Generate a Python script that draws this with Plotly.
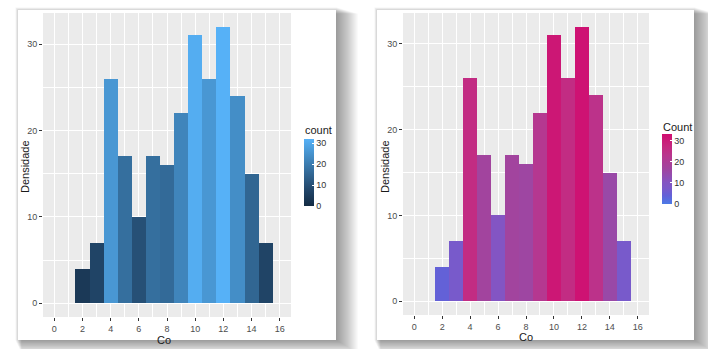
import plotly.graph_objects as go

W, H = 708, 349

# ---- data ----
co_bins = [2, 3, 4, 5, 6, 7, 8, 9, 10, 11, 12, 13, 14, 15]
counts = [4, 7, 26, 17, 10, 17, 16, 22, 31, 26, 32, 24, 15, 7]
x_ticks = [0, 2, 4, 6, 8, 10, 12, 14, 16]
y_ticks = [0, 10, 20, 30]
legend_ticks = [0, 10, 20, 30]

blue_scale = [[0.0, "#132B43"], [0.25, "#22476B"], [0.5, "#336A98"],
              [0.75, "#448EC7"], [1.0, "#56B1F7"]]
pink_scale = [[0.0, "#4C7AE6"], [0.125, "#6460D7"], [0.22, "#7A5ACA"],
              [0.31, "#8455C2"], [0.5, "#A0459F"], [0.69, "#B8368E"],
              [0.81, "#C42A80"], [1.0, "#D00E70"]]


def px(x):
    return x / W


def py(y):
    return 1 - y / H


fig = go.Figure()

# panels (pixel boxes)
panels = [
    dict(card=(18, 10, 336, 340), plot=(43, 13, 291, 317), xa="x", ya="y",
         ca="coloraxis"),
    dict(card=(377, 10, 694, 340), plot=(403, 13, 649, 315), xa="x2", ya="y2",
         ca="coloraxis2"),
]

for p in panels:
    fig.add_trace(go.Bar(
        x=co_bins, y=counts, width=1,
        marker=dict(color=counts, coloraxis=p["ca"], line=dict(width=0)),
        xaxis=p["xa"], yaxis=p["ya"], showlegend=False,
        hovertemplate="Co=%{x}<br>count=%{y}<extra></extra>",
    ))

shapes = []
# shadows
for p in panels:
    x0, y0, x1, y1 = p["card"]
    for k in range(1, 23):
        shapes.append(dict(
            type="rect", xref="paper", yref="paper", layer="below",
            x0=px(x0 - 3 + k * 0.3), x1=px(x1 + k),
            y0=py(y1 + k * 0.6), y1=py(y0 - 3 + k * 0.3),
            line=dict(width=0), fillcolor="rgba(0,0,0,0.02)"))
# cards
for p in panels:
    x0, y0, x1, y1 = p["card"]
    shapes.append(dict(type="rect", xref="paper", yref="paper", layer="below",
                       x0=px(x0), x1=px(x1), y0=py(y1), y1=py(y0),
                       line=dict(width=0), fillcolor="white"))
# panel backgrounds
for p in panels:
    shapes.append(dict(type="rect", xref=p["xa"] + " domain",
                       yref=p["ya"] + " domain", layer="below",
                       x0=0, x1=1, y0=0, y1=1, line=dict(width=0),
                       fillcolor="#EBEBEB"))

tickfont = dict(family="Liberation Sans, Arial", size=9, color="#4D4D4D")


def xaxis_cfg(p):
    x0, y0, x1, y1 = p["plot"]
    return dict(domain=[px(x0), px(x1)], range=[-0.8, 16.8],
                tickmode="array", tickvals=x_ticks,
                ticks="outside", ticklen=3, tickcolor="#333333", tickwidth=1,
                showgrid=True, gridcolor="white", gridwidth=1.1,
                minor=dict(dtick=1, tick0=0, showgrid=True, gridcolor="white",
                           gridwidth=0.5, ticks=""),
                zeroline=False, showline=False, tickfont=tickfont,
                anchor=p["ya"], fixedrange=True)


def yaxis_cfg(p):
    x0, y0, x1, y1 = p["plot"]
    return dict(domain=[py(y1), py(y0)], range=[-1.6, 33.6],
                tickmode="array", tickvals=y_ticks,
                ticks="outside", ticklen=3, tickcolor="#333333", tickwidth=1,
                showgrid=True, gridcolor="white", gridwidth=1.1,
                minor=dict(dtick=5, tick0=0, showgrid=True, gridcolor="white",
                           gridwidth=0.5, ticks=""),
                zeroline=False, showline=False, tickfont=tickfont,
                anchor=p["xa"], fixedrange=True)


titlefont = dict(family="Liberation Sans, Arial", size=11, color="#1A1A1A")
annotations = []
# axis titles
for (cx, cy), (dx, dy), in [((164, 333), (25, 167)), ((526, 330), (385, 166))]:
    annotations.append(dict(text="Co", x=px(cx), y=py(cy), xref="paper",
                            yref="paper", showarrow=False, font=titlefont,
                            xanchor="center", yanchor="top", borderpad=0))
    annotations.append(dict(text="Densidade", x=px(dx), y=py(dy), xref="paper",
                            yref="paper", showarrow=False, font=titlefont,
                            textangle=-90, xanchor="center", yanchor="middle"))
# legend titles
annotations.append(dict(text="count", x=px(303), y=py(130), xref="paper",
                        yref="paper", showarrow=False, font=titlefont,
                        xanchor="left", yanchor="middle"))
annotations.append(dict(text="Count", x=px(661), y=py(127), xref="paper",
                        yref="paper", showarrow=False, font=titlefont,
                        xanchor="left", yanchor="middle"))

legfont = dict(family="Liberation Sans, Arial", size=9, color="#333333")


def cbar(xl, ytop, ybot):
    return dict(x=px(xl), xanchor="left", y=py((ytop + ybot) / 2),
                yanchor="middle", lenmode="pixels", len=ybot - ytop,
                thicknessmode="pixels", thickness=10, outlinewidth=0,
                tickmode="array", tickvals=legend_ticks, ticks="inside",
                ticklen=2, tickcolor="white", tickfont=legfont, xpad=0,
                ypad=0, title=dict(text=""))


fig.update_layout(
    width=W, height=H, margin=dict(l=0, r=0, t=0, b=0),
    paper_bgcolor="white", plot_bgcolor="rgba(0,0,0,0)",
    bargap=0, shapes=shapes, annotations=annotations,
    xaxis=xaxis_cfg(panels[0]), yaxis=yaxis_cfg(panels[0]),
    xaxis2=xaxis_cfg(panels[1]), yaxis2=yaxis_cfg(panels[1]),
    coloraxis=dict(colorscale=blue_scale, cmin=0, cmax=32,
                   colorbar=cbar(304, 139, 206)),
    coloraxis2=dict(colorscale=pink_scale, cmin=0, cmax=33,
                    colorbar=cbar(662, 134, 204)),
    font=dict(family="Liberation Sans, Arial"),
)

fig.write_html("out.html")
